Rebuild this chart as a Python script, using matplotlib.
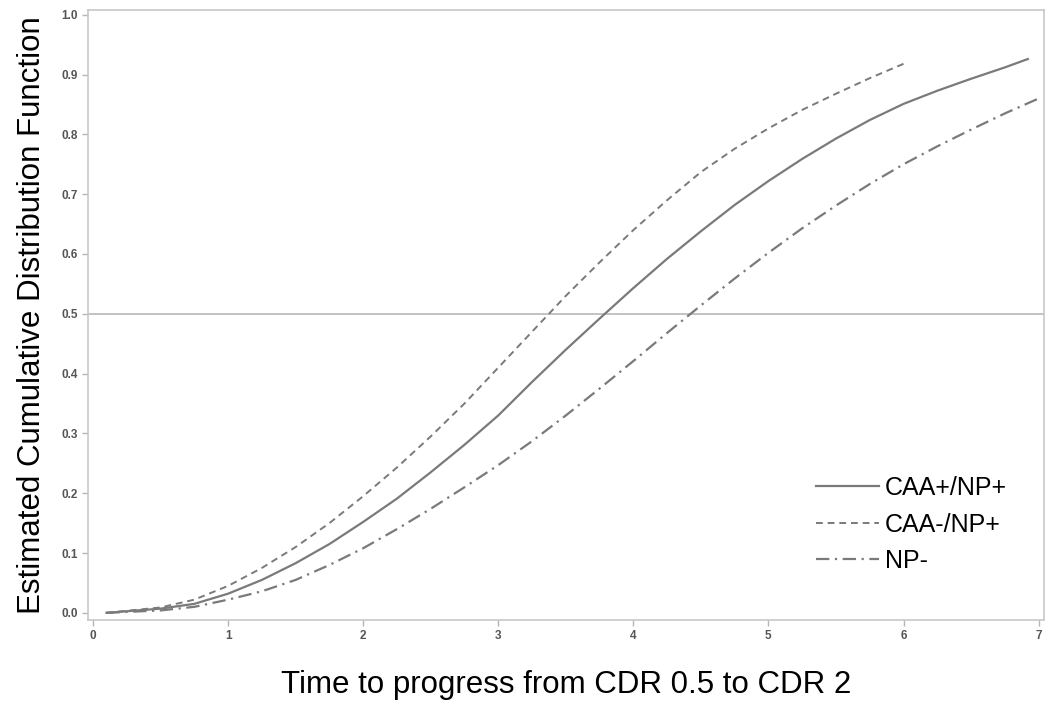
import numpy as np
import matplotlib
matplotlib.use("Agg")
import matplotlib.pyplot as plt

plt.rcParams['font.family'] = ['Liberation Sans', 'DejaVu Sans']

# ===================== data =====================
t_pos = [0.1, 0.5, 0.75, 1.0, 1.25, 1.5, 1.75, 2.0, 2.25, 2.5, 2.75, 3.0, 3.25, 3.5,
         3.75, 4.0, 4.25, 4.5, 4.75, 5.0, 5.25, 5.5, 5.75, 6.0, 6.25, 6.5, 6.75, 6.92]
cdf_caa_pos = [0.0, 0.007, 0.015, 0.032, 0.055, 0.083, 0.115, 0.152, 0.191, 0.235, 0.281, 0.33,
               0.386, 0.44, 0.492, 0.543, 0.592, 0.638, 0.682, 0.722, 0.759, 0.793, 0.824, 0.851,
               0.873, 0.893, 0.912, 0.926]

t_neg = [0.1, 0.5, 0.75, 1.0, 1.25, 1.5, 1.75, 2.0, 2.25, 2.5, 2.75, 3.0, 3.25, 3.5,
         3.75, 4.0, 4.25, 4.5, 4.75, 5.0, 5.25, 5.5, 5.75, 6.0]
cdf_caa_neg = [0.0, 0.009, 0.022, 0.045, 0.075, 0.11, 0.15, 0.195, 0.243, 0.295, 0.35, 0.41,
               0.47, 0.53, 0.586, 0.64, 0.69, 0.737, 0.776, 0.81, 0.841, 0.868, 0.894, 0.918]

t_np = [0.1, 0.5, 0.75, 1.0, 1.25, 1.5, 1.75, 2.0, 2.25, 2.5, 2.75, 3.0, 3.25, 3.5,
        3.75, 4.0, 4.25, 4.5, 4.75, 5.0, 5.25, 5.5, 5.75, 6.0, 6.25, 6.5, 6.75, 7.0]
cdf_np_neg = [0.0, 0.004, 0.01, 0.022, 0.036, 0.055, 0.08, 0.108, 0.14, 0.174, 0.21, 0.247,
              0.287, 0.33, 0.375, 0.421, 0.468, 0.514, 0.559, 0.602, 0.643, 0.681, 0.717, 0.75,
              0.78, 0.808, 0.835, 0.86]

labels = ['CAA+/NP+', 'CAA-/NP+', 'NP-']
xticks = [0, 1, 2, 3, 4, 5, 6, 7]
yticks = [0.0, 0.1, 0.2, 0.3, 0.4, 0.5, 0.6, 0.7, 0.8, 0.9, 1.0]

# ===================== plot =====================
fig = plt.figure(figsize=(10.5, 7.13), dpi=100)
ax = fig.add_axes([88 / 1050, 1 - 620 / 713, (1044 - 88) / 1050, (620 - 10) / 713])

line_col = '#7a7a7a'
ax.axhline(0.5, color='#b8b8b8', lw=1.2, zorder=1)
ax.plot(t_pos, cdf_caa_pos, color=line_col, lw=1.6, ls='-', label=labels[0])
ax.plot(t_neg, cdf_caa_neg, color=line_col, lw=1.4, ls=(0, (3.5, 2.5)), label=labels[1])
ax.plot(t_np, cdf_np_neg, color=line_col, lw=1.6, ls=(0, (6, 2.5, 1, 2.5)), label=labels[2])

ax.set_xlim(-0.037, 7.04)
ax.set_ylim(-0.012, 1.008)
ax.set_xticks(xticks)
ax.set_yticks(yticks)
ax.set_xticklabels([str(x) for x in xticks])
ax.set_yticklabels([f'{y:.1f}' for y in yticks])
ax.tick_params(axis='both', colors='#b5b5b5', labelcolor='#555555', labelsize=8.5, length=4, width=1)
for lab in ax.get_xticklabels() + ax.get_yticklabels():
    lab.set_fontweight('bold')
for sp in ax.spines.values():
    sp.set_color('#c8c8c8')
    sp.set_linewidth(1.2)

ax.set_xlabel('Time to progress from CDR 0.5 to CDR 2', fontsize=22.5, labelpad=20)
ax.set_ylabel('Estimated Cumulative Distribution Function', fontsize=22.5, labelpad=10)

ax.legend(loc='lower right', bbox_to_anchor=(0.985, 0.04), frameon=False, fontsize=18,
          handlelength=2.5, handletextpad=0.25, labelspacing=0.5)

fig.savefig('out.png', dpi=100)
